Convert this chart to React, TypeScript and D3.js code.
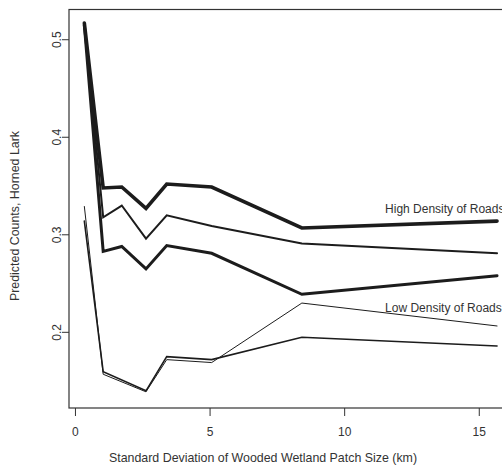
import React, { useEffect, useRef } from "react";
import * as d3 from "d3";

// x positions (km)
const highX = [0.33, 1.03, 1.72, 2.62, 3.39, 5.06, 8.41, 15.66];
const lowX = [0.33, 1.03, 2.62, 3.39, 5.06, 8.41, 15.66];

// High density of roads: upper bound, fit, lower bound
const highUpper = [0.517, 0.348, 0.349, 0.327, 0.352, 0.349, 0.307, 0.314];
const highMean = [0.516, 0.318, 0.33, 0.296, 0.32, 0.309, 0.291, 0.281];
const highLower = [0.515, 0.283, 0.288, 0.265, 0.289, 0.281, 0.239, 0.258];

// Low density of roads
const lowThin = [0.329, 0.157, 0.139, 0.172, 0.169, 0.23, 0.2065];
const lowThick = [0.314, 0.1595, 0.14, 0.175, 0.172, 0.195, 0.186];

const xTicks = [0, 5, 10, 15];
const yTicks = [0.2, 0.3, 0.4, 0.5];

const W = 502, H = 466;
const font = "'Liberation Sans', Arial, sans-serif";

export default function App() {
  const ref = useRef<SVGSVGElement>(null);

  useEffect(() => {
    const svg = d3.select(ref.current);
    svg.selectAll("*").remove();

    const x = d3.scaleLinear().domain([-0.24, 16.29]).range([69, 514]);
    const y = d3.scaleLinear().domain([0.1224, 0.531]).range([408, 9.5]);

    const series = [
      { xs: highX, ys: highUpper, w: 3.6 },
      { xs: highX, ys: highMean, w: 2 },
      { xs: highX, ys: highLower, w: 3 },
      { xs: lowX, ys: lowThin, w: 1 },
      { xs: lowX, ys: lowThick, w: 1.6 },
    ];

    const line = d3.line<[number, number]>().x(d => x(d[0])).y(d => y(d[1]));

    svg.selectAll(".series").data(series).join("path")
      .attr("class", "series")
      .attr("d", s => line(s.xs.map((v, i) => [v, s.ys[i]] as [number, number])))
      .attr("fill", "none")
      .attr("stroke", "#1c1c1c")
      .attr("stroke-width", s => s.w)
      .attr("stroke-linejoin", "miter")
      .attr("stroke-linecap", "round");

    // box
    svg.append("rect")
      .attr("x", 69).attr("y", 9.5)
      .attr("width", 514 - 69).attr("height", 408 - 9.5)
      .attr("fill", "none").attr("stroke", "#333").attr("stroke-width", 1.2);

    // x axis
    const gx = svg.append("g").attr("transform", "translate(0,408)");
    gx.selectAll("line").data(xTicks).join("line")
      .attr("x1", d => x(d)).attr("x2", d => x(d))
      .attr("y1", 0).attr("y2", 8)
      .attr("stroke", "#333");
    gx.selectAll("text").data(xTicks).join("text")
      .attr("x", d => x(d)).attr("y", 28)
      .attr("text-anchor", "middle")
      .attr("font-family", font).attr("font-size", 12).attr("fill", "#333")
      .text(d => d3.format("d")(d));

    // y axis
    const gy = svg.append("g").attr("transform", "translate(69,0)");
    gy.selectAll("line").data(yTicks).join("line")
      .attr("x1", 0).attr("x2", -7)
      .attr("y1", d => y(d)).attr("y2", d => y(d))
      .attr("stroke", "#333");
    gy.selectAll("text").data(yTicks).join("text")
      .attr("transform", d => `translate(-8,${y(d)}) rotate(-90)`)
      .attr("text-anchor", "middle")
      .attr("font-family", font).attr("font-size", 12).attr("fill", "#333")
      .text(d => d3.format(".1f")(d));

    // in-plot labels
    const labels = [
      { t: "High Density of Roads", v: 0.322 },
      { t: "Low Density of Roads", v: 0.2213 },
    ];
    svg.selectAll(".lab").data(labels).join("text")
      .attr("class", "lab")
      .attr("x", x(11.5)).attr("y", d => y(d.v))
      .attr("font-family", font).attr("font-size", 12).attr("fill", "#333")
      .text(d => d.t);

    // axis titles
    svg.append("text")
      .attr("x", 263).attr("y", 462)
      .attr("text-anchor", "middle")
      .attr("font-family", font).attr("font-size", 12.4).attr("fill", "#333")
      .text("Standard Deviation of Wooded Wetland Patch Size (km)");

    svg.append("text")
      .attr("transform", "translate(19,216) rotate(-90)")
      .attr("text-anchor", "middle")
      .attr("font-family", font).attr("font-size", 12.4).attr("fill", "#333")
      .text("Predicted Counts, Horned Lark");
  }, []);

  return (
    <svg ref={ref} width={W} height={H}
      style={{ position: "absolute", left: 0, top: 0, background: "#fff" }} />
  );
}
